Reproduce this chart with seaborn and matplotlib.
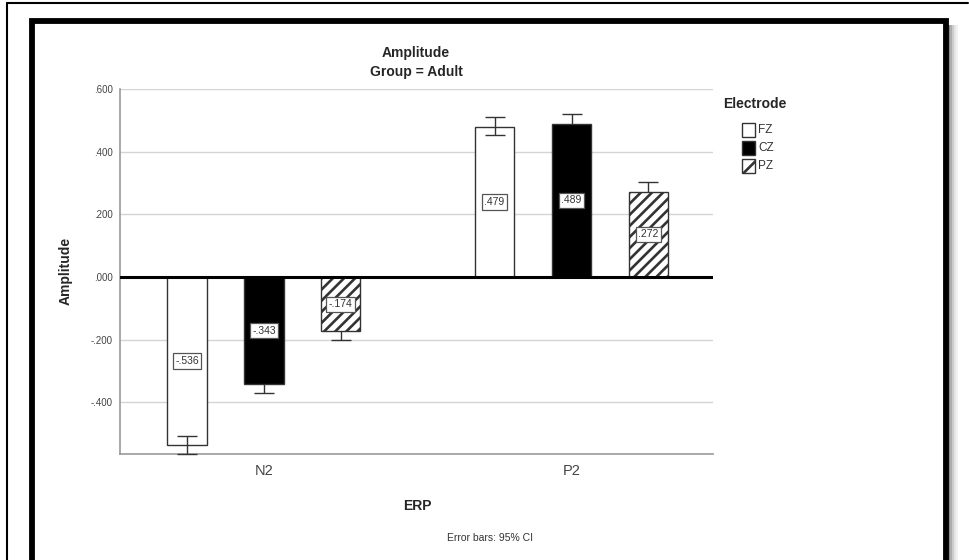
import matplotlib
matplotlib.use("Agg")
import matplotlib.pyplot as plt
import seaborn as sns
import pandas as pd
from matplotlib.patches import Rectangle
from matplotlib.lines import Line2D

# ---- data ----
erp = ["N2", "N2", "N2", "P2", "P2", "P2"]
electrode = ["FZ", "CZ", "PZ", "FZ", "CZ", "PZ"]
means = [-0.536, -0.343, -0.174, 0.479, 0.489, 0.272]
ci_low = [-0.564, -0.371, -0.201, 0.453, 0.460, 0.240]
ci_high = [-0.508, -0.315, -0.147, 0.511, 0.520, 0.304]
electrode_levels = ["FZ", "CZ", "PZ"]
erp_levels = ["N2", "P2"]
yticks = [-0.4, -0.2, 0.0, 0.2, 0.4, 0.6]

df = pd.DataFrame({"ERP": erp, "Electrode": electrode, "Amplitude": means,
                   "lo": ci_low, "hi": ci_high})

sns.set_theme(style="white")
plt.rcParams["font.family"] = ["Liberation Sans", "DejaVu Sans"]
plt.rcParams["hatch.linewidth"] = 1.9
plt.rcParams["hatch.color"] = "#222222"

W, H = 969, 560
fig = plt.figure(figsize=(W / 100, H / 100), dpi=100)
fig.patch.set_facecolor("white")

def fx(px):
    return px / W

def fy(py):
    return 1 - py / H

ax = fig.add_axes([fx(120), fy(454), fx(713) - fx(120), fy(89) - fy(454)])

palette = {"FZ": "white", "CZ": "black", "PZ": "white"}
sns.barplot(data=df, x="ERP", y="Amplitude", hue="Electrode", order=erp_levels,
            hue_order=electrode_levels, palette=palette, edgecolor="#333333",
            linewidth=1.0, width=0.75, gap=0.49, errorbar=None, legend=False,
            ax=ax, zorder=3)

# hatch the PZ bars
for bar in ax.containers[2]:
    bar.set_hatch("///")
    bar.set_edgecolor("#333333")

def fmt(v):
    s = f"{v:.3f}"
    return s.replace("0.", ".", 1)

# error bars and value labels
for hi_idx, lev in enumerate(electrode_levels):
    cont = ax.containers[hi_idx]
    ez = 4 if lev == "FZ" else 2
    for bar, cat in zip(cont, erp_levels):
        row = df[(df["ERP"] == cat) & (df["Electrode"] == lev)].iloc[0]
        xc = bar.get_x() + bar.get_width() / 2
        m = row["Amplitude"]
        ax.errorbar([xc], [m], yerr=[[m - row["lo"]], [row["hi"] - m]], fmt="none",
                    ecolor="#333333", elinewidth=1.0, capsize=7.2, capthick=1.0,
                    zorder=ez, clip_on=False)
        ax.text(xc, m / 2, fmt(m), ha="center", va="center", fontsize=7.5,
                color="#333333", zorder=6,
                bbox=dict(boxstyle="square,pad=0.25", fc="white", ec="#555555", lw=0.9))

ax.set_ylim(-0.565, 0.6)
ax.set_xlim(-0.468, 1.46)
ax.set_yticks(yticks)
ax.set_yticklabels([fmt(t) for t in yticks])
ax.tick_params(axis="y", labelsize=7, colors="#444444", length=3, width=0.8, pad=2)
ax.tick_params(axis="x", labelsize=10.5, colors="#444444", length=0, pad=7)
ax.set_xlabel("")
ax.set_ylabel("")
ax.yaxis.grid(True, color="#d4d4d4", lw=1.0, zorder=0)
ax.set_axisbelow(True)
ax.axhline(0, color="black", lw=2.2, zorder=5)
for s in ["top", "right"]:
    ax.spines[s].set_visible(False)
for s in ["left", "bottom"]:
    ax.spines[s].set_color("#999999")
    ax.spines[s].set_linewidth(1.2)

# titles and axis labels
fig.text(fx(416), fy(53), "Amplitude", ha="center", va="center", fontsize=10, fontweight="bold")
fig.text(fx(416), fy(72), "Group = Adult", ha="center", va="center", fontsize=10, fontweight="bold")
fig.text(fx(66), fy(271), "Amplitude", ha="center", va="center", fontsize=10,
         fontweight="bold", rotation=90)
fig.text(fx(417), fy(506), "ERP", ha="center", va="center", fontsize=10, fontweight="bold")
fig.text(fx(490), fy(538), "Error bars: 95% CI", ha="center", va="center", fontsize=7.5,
         color="#333333")

# legend (manual, SPSS-style)
fig.text(fx(723), fy(104), "Electrode", ha="left", va="center", fontsize=10, fontweight="bold")
leg_y = [130, 148, 166]
for lev, ly in zip(electrode_levels, leg_y):
    r = Rectangle((fx(742), fy(ly + 6.5)), fx(13), fy(ly - 6.5) - fy(ly + 6.5),
                  transform=fig.transFigure, facecolor=palette[lev],
                  edgecolor="#333333", lw=1.0,
                  hatch="//" if lev == "PZ" else None)
    fig.patches.append(r)
    fig.text(fx(758), fy(ly), lev, ha="left", va="center", fontsize=8.5, color="#333333")

# frame decorations
fig.lines.append(Line2D([fx(7), fx(968)], [fy(3), fy(3)], transform=fig.transFigure,
                        color="black", lw=1.5))
fig.lines.append(Line2D([fx(7), fx(7)], [fy(3), fy(560)], transform=fig.transFigure,
                        color="black", lw=1.5))
for i, a in enumerate([0.45, 0.32, 0.2, 0.1, 0.05]):
    fig.patches.append(Rectangle((fx(948 + 2 * i), fy(560)), fx(2), fy(25) - fy(560),
                                 transform=fig.transFigure, facecolor="black",
                                 alpha=a, lw=0))
fig.patches.append(Rectangle((fx(32), fy(562)), fx(945.5) - fx(32), fy(20.5) - fy(562),
                             transform=fig.transFigure, fill=False,
                             edgecolor="black", lw=4.2))

fig.savefig("out.png", dpi=100, facecolor="white")
